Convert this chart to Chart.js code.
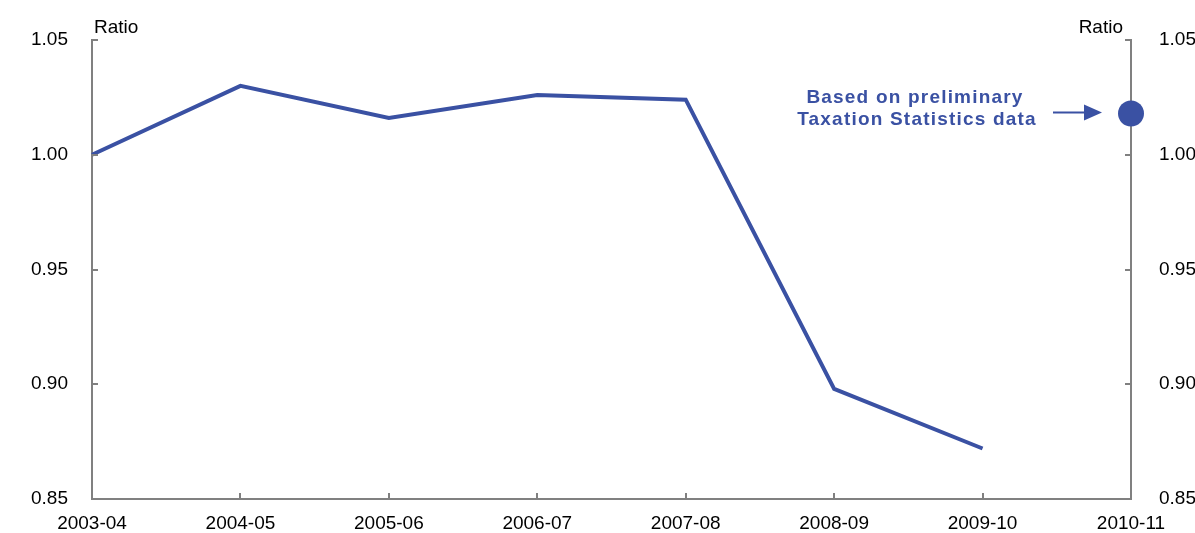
<!DOCTYPE html>
<html>
<head>
<meta charset="utf-8">
<script src="https://cdn.jsdelivr.net/npm/chart.js@4/dist/chart.umd.min.js"></script>
<style>
  html, body { margin: 0; padding: 0; background: #fff; }
  .container-graph { width: 1195px; height: 533px; position: relative; }
</style>
</head>
<body>
<div class="container container-graph">
  <canvas id="ratioChart"></canvas>
</div>
<script>
// chart values
const years = ['2003-04', '2004-05', '2005-06', '2006-07', '2007-08', '2008-09', '2009-10', '2010-11'];
const ratioValues = [1.000, 1.030, 1.016, 1.026, 1.024, 0.898, 0.872, null];
const preliminaryValues = [null, null, null, null, null, null, null, 1.018];
const yTicks = [0.85, 0.90, 0.95, 1.00, 1.05];
const axisTitle = 'Ratio';
const noteLines = ['Based on preliminary', 'Taxation Statistics data'];

const BLUE = '#3A51A3';
const GREY = '#808080';
const FONT = '"Liberation Sans", Arial, sans-serif';

// ticks point inward, plus the "Ratio" titles and the note with its arrow
const extrasPlugin = {
  id: 'extras',
  afterDraw(chart) {
    const ctx = chart.ctx;
    const x = chart.scales.x;
    const y = chart.scales.y;
    const area = chart.chartArea;
    const tick = 6;

    ctx.save();
    ctx.strokeStyle = GREY;
    ctx.lineWidth = 2;
    ctx.beginPath();
    yTicks.forEach(v => {
      const py = Math.round(y.getPixelForValue(v));
      ctx.moveTo(area.left, py);
      ctx.lineTo(area.left + tick, py);
      ctx.moveTo(area.right, py);
      ctx.lineTo(area.right - tick, py);
    });
    years.forEach((lbl, i) => {
      const px = Math.round(x.getPixelForValue(i));
      ctx.moveTo(px, area.bottom);
      ctx.lineTo(px, area.bottom - tick);
    });
    ctx.stroke();

    ctx.fillStyle = '#000';
    ctx.font = '19px ' + FONT;
    ctx.textBaseline = 'alphabetic';
    ctx.textAlign = 'left';
    ctx.fillText(axisTitle, area.left + 2, 33);
    ctx.textAlign = 'right';
    ctx.fillText(axisTitle, area.right - 8, 33);

    // note
    const dotX = x.getPixelForValue(years.length - 1);
    const dotY = y.getPixelForValue(preliminaryValues[years.length - 1]);
    ctx.fillStyle = BLUE;
    ctx.font = 'bold 19px ' + FONT;
    ctx.letterSpacing = '1.2px';
    ctx.textAlign = 'center';
    ctx.fillText(noteLines[0], dotX - 216, dotY - 10);
    ctx.fillText(noteLines[1], dotX - 214, dotY + 12);

    ctx.strokeStyle = BLUE;
    ctx.lineWidth = 2;
    ctx.beginPath();
    ctx.moveTo(dotX - 78, dotY - 1);
    ctx.lineTo(dotX - 44, dotY - 1);
    ctx.stroke();
    ctx.beginPath();
    ctx.moveTo(dotX - 29, dotY - 1);
    ctx.lineTo(dotX - 47, dotY - 9);
    ctx.lineTo(dotX - 47, dotY + 7);
    ctx.closePath();
    ctx.fill();
    ctx.restore();
  }
};

const ctx = document.getElementById('ratioChart');

new Chart(ctx, {
  type: 'line',
  data: {
    labels: years,
    datasets: [
      {
        label: 'Ratio',
        data: ratioValues,
        borderColor: BLUE,
        backgroundColor: BLUE,
        borderWidth: 4,
        pointRadius: 0,
        tension: 0,
        fill: false
      },
      {
        label: 'Preliminary',
        data: preliminaryValues,
        showLine: false,
        borderColor: BLUE,
        backgroundColor: BLUE,
        pointRadius: 13,
        pointBorderWidth: 0
      }
    ]
  },
  options: {
    responsive: true,
    maintainAspectRatio: false,
    animation: false,
    layout: { padding: { top: 40, left: 0, right: 0, bottom: 0 } },
    plugins: {
      legend: { display: false },
      tooltip: { enabled: false }
    },
    scales: {
      x: {
        offset: false,
        grid: { display: false },
        border: { display: true, color: GREY, width: 2 },
        ticks: {
          color: '#000',
          font: { family: FONT, size: 19 },
          padding: 5,
          maxRotation: 0,
          autoSkip: false
        },
        afterFit(scale) { scale.height = 34; }
      },
      y: {
        position: 'left',
        min: 0.85,
        max: 1.05,
        grid: { display: false },
        border: { display: true, color: GREY, width: 2 },
        ticks: {
          stepSize: 0.05,
          color: '#000',
          padding: 16,
          font: { family: FONT, size: 19 },
          callback: v => Number(v).toFixed(2)
        },
        afterFit(scale) { scale.width = 92; }
      },
      y2: {
        position: 'right',
        min: 0.85,
        max: 1.05,
        grid: { display: false },
        border: { display: true, color: GREY, width: 2 },
        ticks: {
          stepSize: 0.05,
          color: '#000',
          padding: 20,
          font: { family: FONT, size: 19 },
          callback: v => Number(v).toFixed(2)
        },
        afterFit(scale) { scale.width = 64; }
      }
    }
  },
  plugins: [extrasPlugin]
});
</script>
</body>
</html>
